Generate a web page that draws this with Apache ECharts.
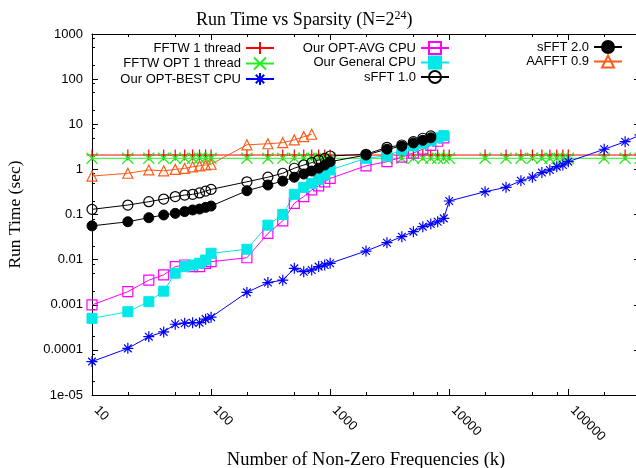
<!DOCTYPE html>
<html><head><meta charset="utf-8">
<script src="https://cdn.jsdelivr.net/npm/echarts@6/dist/echarts.min.js"></script>
<style>html,body{margin:0;padding:0;background:#fff}#c{width:636px;height:468px}</style>
</head><body><div id="c"></div>
<script>
// ---- data ----
const kFFTW = [10,20,30,40,50,60,70,80,90,100,200,300,400,500,600,700,800,900,1000,2000,3000,4000,5000,6000,7000,8000,9000,10000,20000,30000,40000,50000,60000,70000,80000,90000,100000,200000,300000,400000];
const fftw1 = [2.08,2.08,2.08,2.08,2.08,2.08,2.08,2.08,2.08,2.08,2.08,2.08,2.08,2.08,2.08,2.08,2.08,2.08,2.08,2.08,2.08,2.08,2.08,2.08,2.08,2.08,2.08,2.08,2.08,2.08,2.08,2.08,2.08,2.08,2.08,2.08,2.08,2.08,2.08,2.08];
const fftwOpt = [1.76,1.76,1.76,1.76,1.76,1.76,1.76,1.76,1.76,1.76,1.76,1.76,1.76,1.76,1.76,1.76,1.76,1.76,1.76,1.76,1.76,1.76,1.76,1.76,1.76,1.76,1.76,1.76,1.76,1.76,1.76,1.76,1.76,1.76,1.76,1.76,1.76,1.76,1.76,1.76];
const kBest = [10,20,30,40,50,60,70,80,90,100,200,300,400,500,600,700,800,900,1000,2000,3000,4000,5000,6000,7000,8000,9000,10000,20000,30000,40000,50000,60000,70000,80000,90000,100000,200000,300000,400000];
const optBest = [5.5e-5,1.08e-4,1.96e-4,2.5e-4,3.7e-4,3.9e-4,4.0e-4,4.0e-4,4.8e-4,5.3e-4,1.88e-3,3.1e-3,3.5e-3,6.4e-3,5.4e-3,5.9e-3,7.0e-3,7.6e-3,8.3e-3,0.0155,0.0237,0.0322,0.0416,0.0537,0.0615,0.069,0.082,0.199,0.32,0.40,0.56,0.67,0.85,0.97,1.15,1.25,1.48,2.79,4.1,5.8];
const kAvg = [10,20,30,40,50,60,70,80,90,100,200,300,400,500,600,700,800,900,1000,2000,3000,4000,5000,6000,7000,8000,9000];
const optAvg = [9.9e-4,1.95e-3,3.5e-3,4.6e-3,7.0e-3,7.6e-3,7.0e-3,7.0e-3,8.3e-3,9.0e-3,0.011,0.038,0.072,0.177,0.25,0.35,0.43,0.53,0.63,1.2,1.48,1.87,2.3,2.8,3.4,4.2,5.0];
const kGen = [10,20,30,40,50,60,70,80,90,100,200,300,400,500,600,700,800,900,1000,2000,3000,4000,5000,6000,7000,8000,9000];
const general = [5.0e-4,7.0e-4,1.17e-3,2.0e-3,5.0e-3,7.0e-3,7.6e-3,8.3e-3,9.8e-3,0.0138,0.017,0.058,0.1,0.28,0.4,0.49,0.6,0.75,0.97,1.76,2.0,2.7,3.3,3.8,4.3,5.0,5.6];
const kS1 = [10,20,30,40,50,60,70,80,90,100,200,300,400,500,600,700,800,900,1000,2000,3000,4000,5000,6000,7000];
const sfft1 = [0.13,0.162,0.192,0.22,0.25,0.27,0.28,0.30,0.33,0.36,0.53,0.67,0.82,1.06,1.25,1.41,1.61,1.76,1.98,2.16,3.08,3.47,4.1,4.9,5.5];
const kS2 = [10,20,30,40,50,60,70,80,90,100,200,300,400,500,600,700,800,900,1000,2000,3000,4000,5000,6000,7000];
const sfft2 = [0.056,0.069,0.085,0.0975,0.106,0.116,0.126,0.132,0.144,0.154,0.337,0.45,0.55,0.67,0.79,0.92,1.06,1.25,1.48,2.08,2.8,3.25,3.85,4.4,5.0];
const kAA = [10,20,30,40,50,60,70,80,90,100,200,300,400,500,600,700];
const aafft = [0.71,0.82,0.97,0.93,1.0,1.05,1.14,1.2,1.25,1.3,3.5,3.7,3.9,4.5,5.3,6.0];
const yTickLabels = ['1e-05','0.0001','0.001','0.01','0.1','1','10','100','1000'];
const xTickLabels = ['10','100','1000','10000','100000'];
const xMinorTicks = [20,50,80,200,500,800,2000,5000,8000,20000,50000,80000,200000];
const yMinorTicks = [2e-5,5e-5,8e-5,2e-4,5e-4,8e-4,2e-3,5e-3,8e-3,0.02,0.05,0.08,0.2,0.5,0.8,2,5,8,20,50,80,200,500,800];
const legendCols = [
  ['FFTW 1 thread','FFTW OPT 1 thread','Our OPT-BEST CPU'],
  ['Our OPT-AVG CPU','Our General CPU','sFFT 1.0'],
  ['sFFT 2.0','AAFFT 0.9']
];

// ---- chart ----
const PLUS = 'path://M5,0L5,10M0,5L10,5';
const CROSS = 'path://M0,0L10,10M0,10L10,0';
const STAR = 'path://M5,0L5,10M0,5L10,5M1.5,1.5L8.5,8.5M1.5,8.5L8.5,1.5';
const SQ = 'path://M0,0L10,0L10,10L0,10Z';
const CIRC = 'path://M10,5A5,5,0,1,1,0,5A5,5,0,1,1,10,5Z';
const TRI = 'path://M5,0L10,9L0,9Z';

function pairs(ks, vs){ return ks.map((k,i)=>[k, vs[i]]); }
function ser(name, ks, vs, color, symbol, size, filled){
  return {
    name, type:'line', data: pairs(ks, vs), symbol, symbolSize: size,
    lineStyle:{color, width:1},
    itemStyle: filled ? {color, borderColor: color, borderWidth: 1} : {color:'none', borderColor: color, borderWidth: 1.2},
    emphasis:{disabled:true}, animation:false, clip:true, z: 2
  };
}
const series = [
  ser('FFTW 1 thread', kFFTW, fftw1, '#ff0000', PLUS, 11, false),
  ser('FFTW OPT 1 thread', kFFTW, fftwOpt, '#22ee22', CROSS, 11, false),
  ser('Our OPT-BEST CPU', kBest, optBest, '#0000ff', STAR, 11, false),
  ser('Our OPT-AVG CPU', kAvg, optAvg, '#ff00ff', SQ, 10, false),
  ser('Our General CPU', kGen, general, '#00e8e8', 'rect', 10, true),
  ser('sFFT 1.0', kS1, sfft1, '#000000', CIRC, 10, false),
  ser('sFFT 2.0', kS2, sfft2, '#000000', 'circle', 10, true),
  ser('AAFFT 0.9', kAA, aafft, '#ff5a1a', TRI, 10, false)
];

const lab = {fontFamily:'Liberation Sans', fontSize:13, color:'#000'};
const axLine = {show:true, lineStyle:{color:'#000', width:1}};
const tick = {show:true, inside:true, length:6, lineStyle:{color:'#000', width:1}};
const minorTick = (vals)=>({show:true, inside:true, length:3, customValues:vals, lineStyle:{color:'#000', width:1}});

const legends = legendCols.map((d,i)=>({
  data:d, orient:'vertical', right:[361,186,13][i], top:39.5, align:'right',
  itemWidth:28, itemHeight:15, itemGap:-1.5, padding:0, selectedMode:false,
  textStyle:{fontFamily:'Liberation Sans', fontSize:13, color:'#000', lineHeight:15}
}));

const xBase = {type:'log', logBase:10, min:10, max:400000, splitLine:{show:false}};
const yBase = {type:'log', logBase:10, min:1e-5, max:1000, interval:1, splitLine:{show:false}};

const chart = echarts.init(document.getElementById('c'), null, {renderer:'canvas'});
chart.setOption({
  animation:false,
  backgroundColor:'#fff',
  title:{
    text:'Run Time vs Sparsity (N=2{sup|24})', left:191, top:5,
    textStyle:{fontFamily:'Liberation Serif', fontSize:18, fontWeight:'normal', color:'#000',
      rich:{sup:{fontFamily:'Liberation Serif', fontSize:12, color:'#000', verticalAlign:'bottom', padding:[0,0,9,0]}}}
  },
  legend: legends,
  grid:{left:92, top:34, right:-4, bottom:73, containLabel:false, outerBoundsMode:'none'},
  xAxis:[
    {...xBase, position:'bottom',
     axisLine:axLine, axisTick:tick,
     axisLabel:{...lab, rotate:-45, margin:9, padding:[0,0,0,6], formatter:(v)=>xTickLabels[Math.round(Math.log10(v))-1]},
     name:'Number of Non-Zero Frequencies (k)', nameLocation:'middle', nameGap:53,
     nameTextStyle:{fontFamily:'Liberation Serif', fontSize:18.5, color:'#000'}},
    {...xBase, position:'top', axisLine:axLine, axisTick:tick, axisLabel:{show:false}},
    {...xBase, position:'bottom', axisLine:{show:false}, axisTick:minorTick(xMinorTicks), axisLabel:{show:false}},
    {...xBase, position:'top', axisLine:{show:false}, axisTick:minorTick(xMinorTicks), axisLabel:{show:false}}
  ],
  yAxis:[
    {...yBase, position:'left',
     axisLine:axLine, axisTick:tick,
     axisLabel:{...lab, margin:9, formatter:(v)=>yTickLabels[Math.round(Math.log10(v))+5]},
     name:'Run Time (sec)', nameLocation:'middle', nameGap:68, nameRotate:90,
     nameTextStyle:{fontFamily:'Liberation Serif', fontSize:17.5, color:'#000'}},
    {...yBase, position:'right', axisLine:axLine, axisTick:tick, axisLabel:{show:false}},
    {...yBase, position:'left', axisLine:{show:false}, axisTick:minorTick(yMinorTicks), axisLabel:{show:false}},
    {...yBase, position:'right', axisLine:{show:false}, axisTick:minorTick(yMinorTicks), axisLabel:{show:false}}
  ],
  series
});
</script></body></html>
